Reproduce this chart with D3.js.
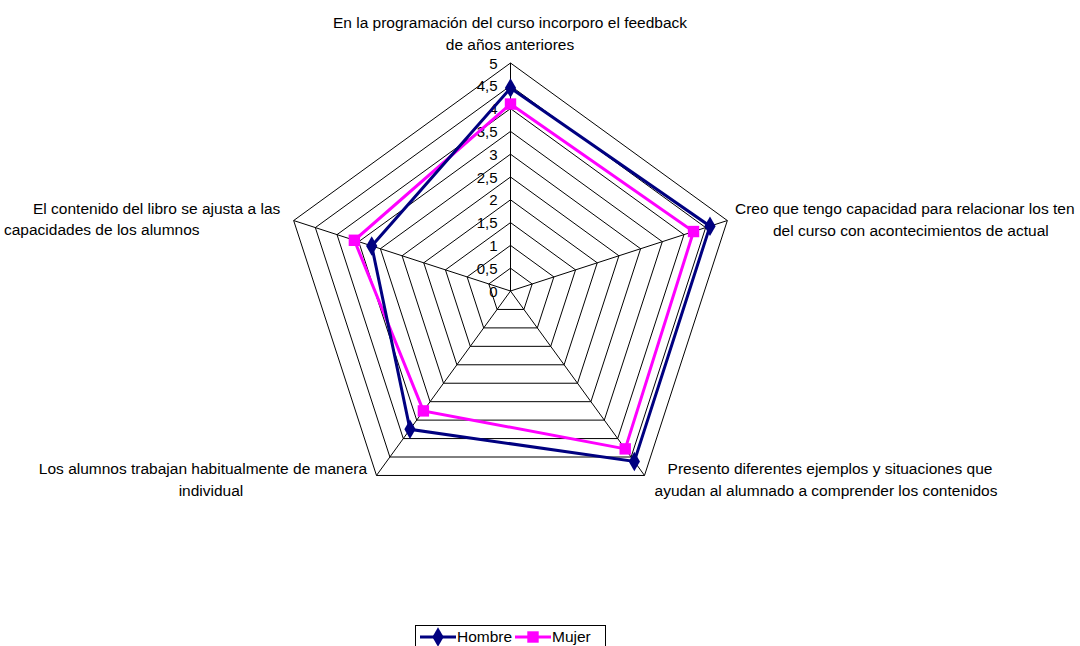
<!DOCTYPE html>
<html>
<head>
<meta charset="utf-8">
<script src="https://cdn.jsdelivr.net/npm/d3@7"></script>
<style>
  body { margin: 0; background: #fff; }
  svg { display: block; font-family: "Liberation Sans", Arial, sans-serif; }
</style>
</head>
<body>
<script>
var w = 1080;
var h = 646;

// data
var categories = [
    ["En la programación del curso incorporo el feedback", "de años anteriores"],
    ["Creo que tengo capacidad para relacionar los ten", "del curso con acontecimientos de actual"],
    ["Presento diferentes ejemplos y situaciones que", "ayudan al alumnado a comprender los contenidos"],
    ["Los alumnos trabajan habitualmente de manera", "individual"],
    ["El contenido del libro se ajusta a las", "capacidades de los alumnos"]
];
var hombre = [4.45, 4.6, 4.62, 3.75, 3.2];
var mujer = [4.1, 4.22, 4.28, 3.25, 3.6];
var ticks = [0, 0.5, 1, 1.5, 2, 2.5, 3, 3.5, 4, 4.5, 5];
var seriesNames = ["Hombre", "Mujer"];

var cx = 510.5, cy = 291;
var r = d3.scaleLinear().domain([0, 5]).range([0, 228]);
var n = categories.length;
var fs = "15.5px";

function angle(i) {
    return -Math.PI / 2 + i * 2 * Math.PI / n;
}
function pt(i, v) {
    return [cx + r(v) * Math.cos(angle(i)), cy + r(v) * Math.sin(angle(i))];
}

var svg = d3.select("body")
    .append("svg")
    .attr("width", w)
    .attr("height", h);

// grid rings
svg.selectAll("polygon.ring")
    .data(ticks.filter(function (t) { return t > 0; }))
    .enter()
    .append("polygon")
    .attr("class", "ring")
    .attr("points", function (t) {
        return d3.range(n).map(function (i) { return pt(i, t).join(","); }).join(" ");
    })
    .attr("fill", "none")
    .attr("stroke", "#000")
    .attr("stroke-width", 1);

// spokes
svg.selectAll("line.spoke")
    .data(d3.range(n))
    .enter()
    .append("line")
    .attr("class", "spoke")
    .attr("x1", cx)
    .attr("y1", cy)
    .attr("x2", function (i) { return pt(i, 5)[0]; })
    .attr("y2", function (i) { return pt(i, 5)[1]; })
    .attr("stroke", "#000")
    .attr("stroke-width", 1);

// tick labels
svg.selectAll("text.tick")
    .data(ticks)
    .enter()
    .append("text")
    .attr("class", "tick")
    .attr("x", cx - 13)
    .attr("y", function (t) { return cy - r(t) + 5.5; })
    .attr("text-anchor", "end")
    .attr("font-size", "15px")
    .text(function (t) { return String(t).replace(".", ","); });

// category labels: [x, y, anchor] per line
var labelPos = [
    [[510, 28, "middle"], [510, 50, "middle"]],
    [[735, 214, "start"], [773, 236, "start"]],
    [[830, 474, "middle"], [826, 496, "middle"]],
    [[203, 474, "middle"], [211, 496, "middle"]],
    [[33, 214, "start"], [4, 235, "start"]]
];
categories.forEach(function (lines, i) {
    lines.forEach(function (s, j) {
        var p = labelPos[i][j];
        svg.append("text")
            .attr("x", p[0])
            .attr("y", p[1])
            .attr("text-anchor", p[2])
            .attr("font-size", fs)
            .text(s);
    });
});

// series
var series = [
    { name: seriesNames[0], values: hombre, color: "#000080", shape: d3.symbolDiamond, size: 110 },
    { name: seriesNames[1], values: mujer, color: "#ff00ff", shape: d3.symbolSquare, size: 130 }
];
var line = d3.line().curve(d3.curveLinearClosed);

series.slice().reverse().forEach(function (s) {
    var pts = s.values.map(function (v, i) { return pt(i, v); });
    svg.append("path")
        .attr("d", line(pts))
        .attr("fill", "none")
        .attr("stroke", s.color)
        .attr("stroke-width", 3);
});
series.slice().reverse().forEach(function (s) {
    svg.selectAll(null)
        .data(s.values)
        .enter()
        .append("path")
        .attr("d", d3.symbol().type(s.shape).size(s.size))
        .attr("transform", function (v, i) {
            var p = pt(i, v);
            return "translate(" + p[0] + "," + p[1] + ")";
        })
        .attr("fill", s.color);
});

// legend
var lg = svg.append("g");
lg.append("rect")
    .attr("x", 415.5)
    .attr("y", 625.5)
    .attr("width", 190)
    .attr("height", 30)
    .attr("fill", "#fff")
    .attr("stroke", "#000");
var legX = [420, 515];
series.forEach(function (s, i) {
    var x0 = legX[i];
    lg.append("line")
        .attr("x1", x0).attr("x2", x0 + 36)
        .attr("y1", 637).attr("y2", 637)
        .attr("stroke", s.color)
        .attr("stroke-width", 3);
    lg.append("path")
        .attr("d", d3.symbol().type(s.shape).size(s.size))
        .attr("transform", "translate(" + (x0 + 18) + ",637)")
        .attr("fill", s.color);
    lg.append("text")
        .attr("x", x0 + 37)
        .attr("y", 642)
        .attr("font-size", fs)
        .text(s.name);
});
</script>
</body>
</html>
